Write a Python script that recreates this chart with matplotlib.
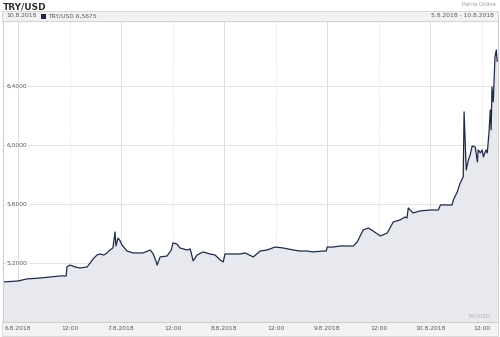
import numpy as np
import matplotlib
matplotlib.use("Agg")
import matplotlib.pyplot as plt
from matplotlib.patches import Rectangle
import matplotlib.transforms as mtransforms

# hours since 6.8.2018 00:00
hours = [-3.5, 0.0, 2.1, 5.1, 7.5, 9.8, 11.2, 11.4, 12.1, 13.3, 14.4, 16.1, 16.8, 17.7,
         18.4, 19.1, 20.0, 20.7, 21.4, 22.1, 22.6, 22.8, 23.3, 23.8, 24.2, 25.4, 26.8,
         29.1, 30.8, 31.5, 32.2, 32.4, 33.1, 34.7, 35.7, 36.1, 37.0, 37.7, 39.4, 40.1,
         40.8, 41.7, 43.1, 44.7, 45.9, 47.1, 47.8, 48.2, 51.7, 52.9, 54.8, 55.9, 56.4,
         58.0, 59.9, 61.7, 64.1, 65.7, 67.3, 68.7, 71.1, 71.8, 72.0, 73.4, 75.0, 78.1,
         79.0, 79.7, 80.4, 81.6, 82.7, 84.4, 86.0, 87.4, 89.0, 90.2, 90.6, 90.9, 92.0,
         93.7, 96.1, 97.9, 98.4, 101.1, 101.4, 102.3, 103.0, 103.7, 103.9, 104.2, 104.4,
         104.9, 105.3, 105.8, 106.5, 107.0, 107.2, 107.7, 108.1, 108.4, 109.0, 109.3,
         109.7, 110.0, 110.2, 110.4, 110.7, 111.1, 111.4, 111.6]
rate = [5.071, 5.078, 5.092, 5.098, 5.105, 5.112, 5.112, 5.173, 5.186, 5.173, 5.166, 5.173,
        5.200, 5.234, 5.254, 5.261, 5.254, 5.268, 5.288, 5.302, 5.410, 5.315, 5.369, 5.349,
        5.322, 5.281, 5.268, 5.268, 5.288, 5.261, 5.207, 5.186, 5.241, 5.247, 5.288, 5.336,
        5.329, 5.302, 5.288, 5.295, 5.214, 5.254, 5.275, 5.261, 5.254, 5.220, 5.207, 5.261,
        5.261, 5.268, 5.241, 5.268, 5.281, 5.288, 5.308, 5.302, 5.288, 5.281, 5.281, 5.275,
        5.281, 5.281, 5.308, 5.308, 5.315, 5.315, 5.342, 5.383, 5.424, 5.437, 5.417, 5.383,
        5.403, 5.478, 5.492, 5.512, 5.505, 5.573, 5.539, 5.553, 5.559, 5.559, 5.593, 5.593,
        5.627, 5.681, 5.742, 5.783, 6.224, 5.986, 5.831, 5.898, 5.932, 5.993, 5.986, 5.885,
        5.966, 5.946, 5.966, 5.919, 5.966, 5.946, 6.081, 6.237, 6.102, 6.393, 6.292, 6.597,
        6.644, 6.5675]

y_ticks = [5.2, 5.6, 6.0, 6.4]
y_labels = ["5,2000", "5,6000", "6,0000", "6,4000"]
x_ticks = [0, 12, 24, 36, 48, 60, 72, 84, 96, 108]
x_labels = ["6.8.2018", "12:00", "7.8.2018", "12:00", "8.8.2018", "12:00",
            "9.8.2018", "12:00", "10.8.2018", "12:00"]

W, H = 500, 337
fig = plt.figure(figsize=(W / 100, H / 100), dpi=100)
fig.patch.set_facecolor("white")

def fx(px):
    return px / W

def fy(py):
    return 1 - py / H

ax = fig.add_axes([fx(3), fy(322), fx(495), (322 - 21) / H])
ax.set_xlim(-3.5, 111.8)
ax.set_ylim(4.8, 6.84)

# grid
for t in x_ticks:
    if t % 24 == 0:
        ax.axvline(t, color="#dcdcdc", lw=0.7, zorder=0)
    else:
        ax.axvline(t, color="#e4e4e4", lw=0.7, ls=(0, (1, 1)), zorder=0)
for t in y_ticks:
    ax.axhline(t, color="#e2e2e2", lw=0.7, zorder=0)

ax.fill_between(hours, rate, 4.8, color="#e7e9ef", zorder=1, lw=0)
ax.plot(hours, rate, color="#1d2b48", lw=0.9, zorder=2)

ax.set_xticks([])
ax.set_yticks([])
for s in ax.spines.values():
    s.set_color("#cfcfcf")
    s.set_linewidth(0.8)

trans = mtransforms.blended_transform_factory(ax.transAxes, ax.transData)
for v, lab in zip(y_ticks, y_labels):
    ax.text(0.008, v, lab, transform=trans, ha="left", va="center", fontsize=4.3,
            color="#555555", zorder=3,
            bbox=dict(facecolor="white", edgecolor="none", pad=0.6))

ax.text(0.985, 0.012, "TRY/USD", transform=ax.transAxes, ha="right", va="bottom",
        fontsize=3.8, color="#b0b0b0")

# bottom label strip
fig.patches.append(Rectangle((fx(2), fy(336)), fx(496), (336 - 322) / H,
                             transform=fig.transFigure, facecolor="#f3f3f3",
                             edgecolor="#d5d5d5", lw=0.6, zorder=-1))
xtrans = mtransforms.blended_transform_factory(ax.transData, fig.transFigure)
for t, lab in zip(x_ticks, x_labels):
    ax.text(t, fy(329), lab, transform=xtrans, ha="center", va="center",
            fontsize=4.3, color="#555555", clip_on=False)

# header
fig.text(fx(3), fy(6.5), "TRY/USD", fontsize=6.5, fontweight="bold", color="#333333",
         ha="left", va="center")
fig.text(fx(496), fy(4.5), "Patria Online", fontsize=3.8, color="#9a9a9a",
         ha="right", va="center")
fig.patches.append(Rectangle((fx(2), fy(20.5)), fx(496), 9 / H,
                             transform=fig.transFigure, facecolor="#f2f2f2",
                             edgecolor="#d0d0d0", lw=0.6))
fig.text(fx(6), fy(15.8), "10.8.2018", fontsize=4.3, color="#555555", ha="left", va="center")
fig.patches.append(Rectangle((fx(41), fy(18.5)), fx(5), 5 / H,
                             transform=fig.transFigure, facecolor="#1d2b48",
                             edgecolor="none"))
fig.text(fx(48), fy(15.8), "TRY/USD 6,5675", fontsize=4.3, color="#555555",
         ha="left", va="center")
fig.text(fx(494), fy(15.8), "5.8.2018 - 10.8.2018", fontsize=4.3, color="#555555",
         ha="right", va="center")

fig.savefig("out.png", dpi=100)
